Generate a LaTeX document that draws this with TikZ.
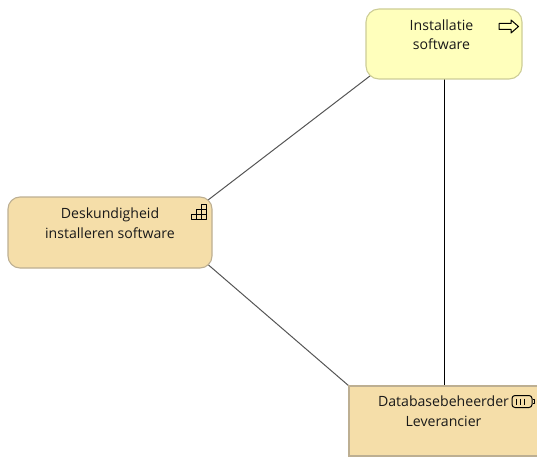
\documentclass[tikz,border=0pt]{standalone}
\usepackage{fontspec}
\setmainfont{Open Sans}
\usetikzlibrary{backgrounds}
\definecolor{yellowfill}{HTML}{FFFFBC}
\definecolor{yellowedge}{HTML}{CDCD96}
\definecolor{tanfill}{HTML}{F5DEA9}
\definecolor{tanedge}{HTML}{BDAF92}
\definecolor{linkcol}{HTML}{555555}
\tikzset{
  box/.style={draw, line width=1.1pt, inner sep=0pt, outer sep=0pt},
  softbox/.style={box, rounded corners=13pt},
  yellowbox/.style={softbox, fill=yellowfill, draw=yellowedge, minimum width=156pt, minimum height=70pt},
  deskbox/.style={softbox, rounded corners=12pt, fill=tanfill, draw=tanedge, minimum width=204pt, minimum height=71pt},
  rolebox/.style={box, fill=tanfill, draw=tanedge, minimum width=190pt, minimum height=70pt},
  label/.style={align=center, font=\fontsize{14.1}{19.5}\selectfont, inner sep=0pt, text=black!90},
  link/.style={line width=1pt, draw=linkcol, shorten <=-7pt, shorten >=-7pt},
  strong link/.style={line width=1pt, draw=black},
  glyph/.style={line width=1pt, draw=black, line join=round}
}
\begin{document}
\begin{tikzpicture}[x=1pt,y=-1pt]
\useasboundingbox (0,0) rectangle (537,457);
\clip (0,0) rectangle (537,457);
\node[yellowbox] (inst) at (444,44) {};
\node[deskbox] (desk) at (110,232.5) {};
\node[rolebox] (role) at (444,421) {};
\begin{scope}[on background layer]
\draw[link] (inst.south west) -- (desk.north east);
\draw[link] (desk.south east) -- (role.north west);
\draw[strong link] (inst.south) -- (role.north);
\end{scope}
\node[label] (instlabel) at (441.5,34.5) {Installatie\\software};
\node[label] (desklabel) at (110,223) {Deskundigheid\\installeren software};
\node[label] (rolelabel) at (443.5,411) {Databasebeheerder\\Leverancier};
% process arrow icon
\draw[glyph] (499,23.5) -- (511,23.5) -- (511,20) -- (518.5,26.5) -- (511,33) -- (511,29.5) -- (499,29.5) -- cycle;
% capability stairs icon
\draw[glyph] (191,219) -- (191,214) -- (196,214) -- (196,209) -- (201,209) -- (201,204) -- (206.5,204) -- (206.5,219) -- cycle;
\draw[glyph] (191,214) -- (206.5,214) (196,209) -- (206.5,209) (196,214) -- (196,219) (201,209) -- (201,219);
% role icon
\draw[glyph, rounded corners=3pt] (512,395.5) rectangle (532,407.5);
\draw[glyph] (516.5,398.5) -- (516.5,404.5) (520.5,398.5) -- (520.5,404.5) (524.5,398.5) -- (524.5,404.5);
\draw[glyph] (532.5,399.5) -- (534.5,399.5) -- (534.5,403.5) -- (532.5,403.5);
\end{tikzpicture}
\end{document}
